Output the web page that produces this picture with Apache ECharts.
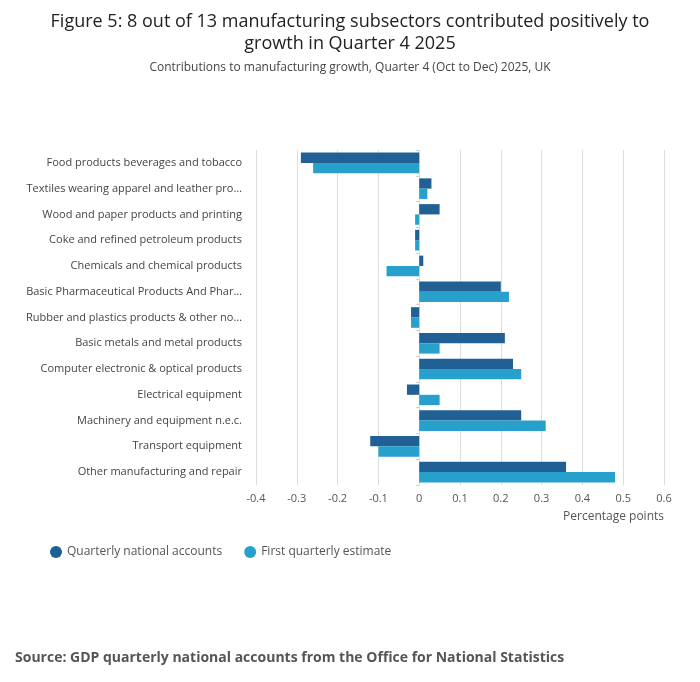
<!DOCTYPE html>
<html><head><meta charset="utf-8">
<script src="https://cdn.jsdelivr.net/npm/echarts@6/dist/echarts.min.js"></script>
<style>body{margin:0;background:#fff}#c{width:700px;height:682px}</style>
</head><body><div id="c"></div>
<script>
const categories = ["Food products beverages and tobacco","Textiles wearing apparel and leather pro…","Wood and paper products and printing","Coke and refined petroleum products","Chemicals and chemical products","Basic Pharmaceutical Products And Phar…","Rubber and plastics products & other no…","Basic metals and metal products","Computer electronic & optical products","Electrical equipment","Machinery and equipment n.e.c.","Transport equipment","Other manufacturing and repair"];
const qna = [-0.29,0.03,0.05,-0.01,0.01,0.20,-0.02,0.21,0.23,-0.03,0.25,-0.12,0.36];
const fqe = [-0.26,0.02,-0.01,-0.01,-0.08,0.22,-0.02,0.05,0.25,0.05,0.31,-0.10,0.48];
const chart = echarts.init(document.getElementById('c'));
const font = "'Open Sans', sans-serif";
chart.setOption({
  textStyle:{fontFamily:font},
  title:[{text:"Figure 5: 8 out of 13 manufacturing subsectors contributed positively to\ngrowth in Quarter 4 2025",left:'center',top:6,textStyle:{fontSize:18,fontWeight:'normal',color:'#222',lineHeight:22,fontFamily:font}},
    {text:"Contributions to manufacturing growth, Quarter 4 (Oct to Dec) 2025, UK",left:'center',top:57,textStyle:{fontSize:12,fontWeight:'normal',color:'#444',fontFamily:font}},
    {text:"Source: GDP quarterly national accounts from the Office for National Statistics",left:10,top:646,textStyle:{fontSize:14,fontWeight:'bold',color:'#555',fontFamily:font}}],
  legend:{left:45,top:541,itemWidth:12,itemHeight:12,itemGap:22,icon:'circle',textStyle:{color:'#555',fontSize:12},data:["Quarterly national accounts","First quarterly estimate"]},
  grid:{left:256,right:36,top:150,bottom:197},
  xAxis:{type:'value',min:-0.4,max:0.6,interval:0.1,name:'Percentage points',nameLocation:'end',nameGap:0,
    nameTextStyle:{color:'#555',fontSize:12,align:'right',verticalAlign:'top',padding:[26,0,0,0]},
    axisLabel:{color:'#555',fontSize:11,formatter:v=>String(Math.round(v*10)/10)},
    splitLine:{lineStyle:{color:'#ddd'}},axisLine:{show:false},axisTick:{show:false}},
  yAxis:{type:'category',data:categories,inverse:true,axisLabel:{color:'#444',fontSize:11,margin:14},
    axisLine:{show:false},axisTick:{show:true,length:3,lineStyle:{color:'#ccc'}},splitLine:{show:false}},
  series:[{name:"Quarterly national accounts",type:'bar',data:qna,itemStyle:{color:'#206095'},barGap:'0%',barCategoryGap:'20%'},
    {name:"First quarterly estimate",type:'bar',data:fqe,itemStyle:{color:'#27a0cc'}}]
});
</script></body></html>
